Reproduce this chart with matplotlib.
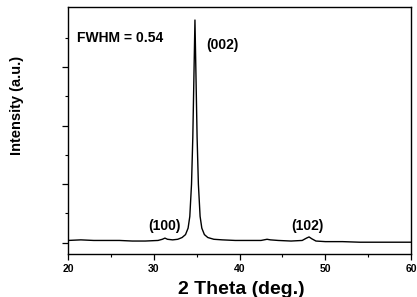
import numpy as np
import matplotlib
matplotlib.use("Agg")
from matplotlib import pyplot as plt
from matplotlib.ticker import MultipleLocator

plt.rcParams['font.family'] = ['Liberation Sans', 'DejaVu Sans']
plt.rcParams['font.weight'] = 'bold'

# XRD trace (2 theta in deg, intensity in arbitrary units)
two_theta = [20.0, 21.5, 23.0, 24.5, 26.0, 27.5, 29.0, 30.5, 31.0, 31.3, 31.6, 32.2,
             32.8, 33.3, 33.7, 34.0, 34.2, 34.4, 34.55, 34.7, 34.8, 34.9, 35.05,
             35.2, 35.4, 35.6, 35.9, 36.3, 37.0, 38.0, 39.5, 41.0, 42.5, 43.2,
             43.6, 44.5, 46.0, 47.3, 47.8, 48.1, 48.4, 48.9, 50.0, 52.0, 54.0,
             56.0, 58.0, 60.0]
intensity = [0.04, 0.05, 0.04, 0.04, 0.04, 0.03, 0.03, 0.04, 0.06, 0.08, 0.06, 0.05,
             0.06, 0.09, 0.14, 0.25, 0.45, 1.0, 1.8, 3.0, 3.80, 3.0, 1.8,
             1.0, 0.45, 0.25, 0.14, 0.09, 0.06, 0.05, 0.04, 0.04, 0.04, 0.06,
             0.05, 0.04, 0.03, 0.04, 0.08, 0.1, 0.07, 0.03, 0.02, 0.02, 0.01,
             0.01, 0.01, 0.01]

peak_labels = ["(100)", "(002)", "(102)"]
peak_label_pos = [(31.2, 0.29), (38.0, 3.37), (47.9, 0.29)]

fig = plt.figure(figsize=(4.17, 2.97), dpi=100)
ax = fig.add_axes([0.163, 0.145, 0.823, 0.831])
ax.plot(two_theta, intensity, color='black', lw=1.0)

ax.set_xlim(20, 60)
ax.set_ylim(-0.19, 4.02)
ax.xaxis.set_major_locator(MultipleLocator(10))
ax.xaxis.set_minor_locator(MultipleLocator(5))
ax.set_yticks([0, 1, 2, 3])
ax.set_yticks([0.5, 1.5, 2.5, 3.5], minor=True)
ax.set_yticklabels([])
ax.tick_params(which='major', direction='out', length=4, width=0.9, labelsize=7.5)
ax.tick_params(which='minor', direction='out', length=2.5, width=0.8)
for lbl in ax.get_xticklabels():
    lbl.set_fontweight('bold')
for s in ax.spines.values():
    s.set_linewidth(1.0)

ax.text(21.1, 3.5, "FWHM = 0.54", fontsize=10, fontweight='bold', va='center')
for lab, (xx, yy) in zip(peak_labels, peak_label_pos):
    ax.text(xx, yy, lab, fontsize=10, fontweight='bold', ha='center', va='center')

ax.set_xlabel("2 Theta (deg.)", fontsize=14, fontweight='bold')
ax.xaxis.set_label_coords(0.505, -0.11)
ax.set_ylabel("Intensity (a.u.)", fontsize=10.5, fontweight='bold')
ax.yaxis.set_label_coords(-0.128, 0.6)

fig.savefig("out.png", dpi=100)
